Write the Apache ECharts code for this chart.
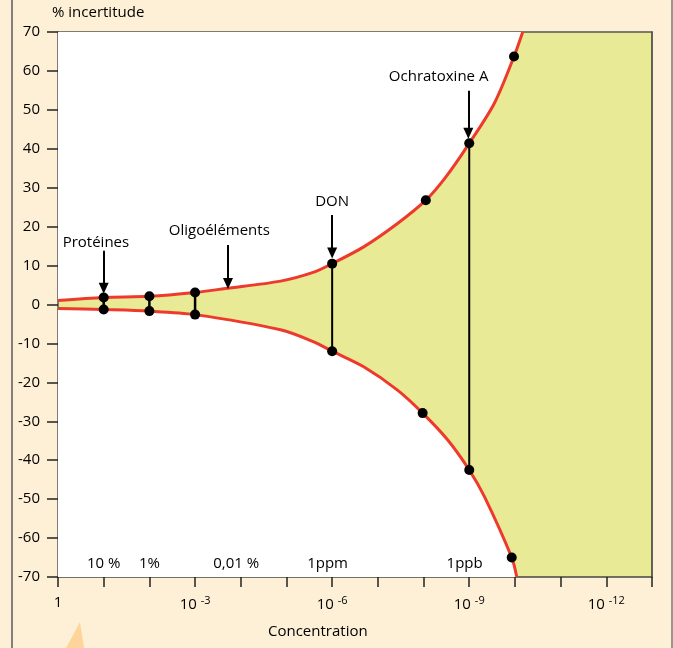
<!DOCTYPE html>
<html>
<head>
<meta charset="utf-8">
<script src="https://cdn.jsdelivr.net/npm/echarts@6/dist/echarts.min.js"></script>
<style>
  html, body { margin: 0; padding: 0; background: #fef0d6; }
  #pic0 { width: 673px; height: 648px; }
</style>
</head>
<body>
<div id="pic0"></div>
<script>
// x = -log10(concentration), 0 -> 1, 3 -> 10^-3 ...
var upperCurve = [[0, 1.0], [1, 1.8], [2, 2.1], [3, 3.1], [3.66, 4.1], [4.87, 6.0], [5.6, 8.3], [6, 10.5],
    [6.69, 14.8], [7.43, 20.8], [8.05, 26.8], [8.49, 32.8], [9, 41.4], [9.55, 51.7], [9.98, 63.7], [10.17, 70]];
var lowerCurve = [[0, -1.0], [1, -1.3], [2, -1.7], [3, -2.6], [4.87, -6.5], [5.6, -9.6], [6, -12],
    [6.69, -16.0], [7.43, -22.0], [7.98, -27.9], [8.53, -34.8], [9, -42.5], [9.33, -49.3], [9.93, -65], [10.04, -70]];
var dotsUpper = [[1, 1.8], [2, 2.1], [3, 3.1], [6, 10.5], [8.05, 26.8], [9, 41.4], [9.98, 63.7]];
var dotsLower = [[1, -1.3], [2, -1.7], [3, -2.6], [6, -12], [7.98, -27.9], [9, -42.5], [9.93, -65]];
var verticalX = [1, 2, 3, 6, 9];
// repères de concentration dans le graphique
var concLabels = [[1, '10 %'], [2, '1%'], [3.9, '0,01 %'], [5.9, '1ppm'], [8.9, '1ppb']];
// flèches : x, haut, pointe
var arrows = [[1, 13.8, 4.2], [3.72, 15.3, 5.4], [6, 23.0, 13.2], [8.98, 54.9, 44.0]];
var arrowLabels = [[0.83, 15.8, 'Protéines'], [3.53, 18.9, 'Oligoéléments'], [6.0, 26.3, 'DON'], [8.33, 58.4, 'Ochratoxine A']];
var xTicks = [0, 3, 6, 9, 12];

var FONT = 'Open Sans';
var FS = 15;
var myChart = echarts.init(document.getElementById('pic0'));

function findY(arr, x) {
    for (var i = 0; i < arr.length; i++) {
        if (arr[i][0] === x) return arr[i][1];
    }
    return 0;
}

var series = [
    {
        type: 'line', name: 'haut', data: upperCurve, smooth: 0.3,
        symbol: 'none', z: 2,
        lineStyle: { color: '#ee3a2c', width: 3 },
        areaStyle: { color: '#ffffff', opacity: 1, origin: 'end' }
    },
    {
        type: 'line', name: 'bas', data: lowerCurve, smooth: 0.3,
        symbol: 'none', z: 2,
        lineStyle: { color: '#ee3a2c', width: 3 },
        areaStyle: { color: '#ffffff', opacity: 1, origin: 'start' }
    }
];

// traits verticaux entre les points
verticalX.forEach(function (x) {
    series.push({
        type: 'line', data: [[x, findY(dotsUpper, x)], [x, findY(dotsLower, x)]],
        symbol: 'none', z: 4, silent: true,
        lineStyle: { color: '#000', width: x < 4 ? 2.5 : 2 }
    });
});

series.push({
    type: 'scatter', data: dotsUpper.concat(dotsLower), symbolSize: 10, z: 5,
    itemStyle: { color: '#000', opacity: 1 }
});

// flèches
series.push({
    type: 'line', data: [], z: 6,
    markLine: {
        silent: true,
        symbol: ['none', 'triangle'],
        symbolSize: [10, 11],
        symbolRotate: 180,
        label: { show: false },
        lineStyle: { color: '#000', width: 2, type: 'solid' },
        data: arrows.map(function (a) {
            return [{ coord: [a[0], a[1]] }, { coord: [a[0], a[2]] }];
        })
    }
});

var textLabel = {
    show: true, position: 'inside', formatter: '{b}', opacity: 1,
    color: '#000', textBorderWidth: 0, fontFamily: FONT, fontSize: FS
};

series.push({
    type: 'scatter', symbolSize: 0.1, z: 7, silent: true,
    itemStyle: { color: '#000', opacity: 1 },
    data: arrowLabels.map(function (a) { return { value: [a[0], a[1]], name: a[2] }; }),
    label: textLabel
});

series.push({
    type: 'scatter', symbolSize: 0.1, z: 7, silent: true,
    itemStyle: { color: '#000', opacity: 1 },
    data: concLabels.map(function (a) { return { value: [a[0], -66.7], name: a[1] }; }),
    label: textLabel
});

option = {
    backgroundColor: '#fef0d6',
    animation: false,
    grid: {
        left: 58, right: 21, top: 32, bottom: 71,
        show: true, backgroundColor: '#e8ea95', borderWidth: 0
    },
    graphic: [
        { type: 'line', shape: { x1: 12, y1: 0, x2: 12, y2: 648 }, style: { stroke: '#5a5a5a', lineWidth: 1.5 } },
        { type: 'line', shape: { x1: 672, y1: 0, x2: 672, y2: 648 }, style: { stroke: '#777', lineWidth: 1.5 } },
        { type: 'polygon', shape: { points: [[80, 622], [66, 648], [84, 648]] }, style: { fill: '#fdd49a' } },
        {
            type: 'text', left: 268, top: 624,
            style: { text: 'Concentration', fill: '#000', font: FS + 'px "' + FONT + '"' }
        }
    ],
    xAxis: [
        {
            type: 'value', min: 0, max: 13, interval: 1,
            axisLine: { show: true, onZero: false, lineStyle: { color: '#444', width: 1.5 } },
            axisTick: { show: true, length: 10, lineStyle: { color: '#222', width: 1.5 } },
            splitLine: { show: false },
            axisLabel: {
                margin: 18, color: '#000', fontFamily: FONT, fontSize: FS,
                formatter: function (v) {
                    if (v === 0) return '1';
                    if (xTicks.indexOf(v) >= 0) return '10 {s|-' + v + '}';
                    return '';
                },
                rich: { s: { fontSize: 11, fontFamily: FONT, color: '#000', padding: [0, 0, 9, 0] } }
            }
        },
        {
            type: 'value', min: 0, max: 13, position: 'top',
            axisLine: { show: true, onZero: false, lineStyle: { color: '#555', width: 1.5 } },
            axisTick: { show: false }, axisLabel: { show: false }, splitLine: { show: false }
        }
    ],
    yAxis: [
        {
            type: 'value', min: -70, max: 70, interval: 10,
            name: '% incertitude', nameLocation: 'end', nameGap: 12,
            nameTextStyle: { color: '#000', fontFamily: FONT, fontSize: FS, align: 'left', padding: [0, 0, 0, -6] },
            axisLine: { show: true, onZero: false, lineStyle: { color: '#555', width: 1.5 } },
            axisTick: { show: true, length: 11, lineStyle: { color: '#222', width: 1.5 } },
            splitLine: { show: false },
            axisLabel: { margin: 18, color: '#000', fontFamily: FONT, fontSize: FS }
        },
        {
            type: 'value', min: -70, max: 70, position: 'right',
            axisLine: { show: true, onZero: false, lineStyle: { color: '#333', width: 1.5 } },
            axisTick: { show: false }, axisLabel: { show: false }, splitLine: { show: false }
        }
    ],
    series: series
};
myChart.setOption(option);
</script>
</body>
</html>
